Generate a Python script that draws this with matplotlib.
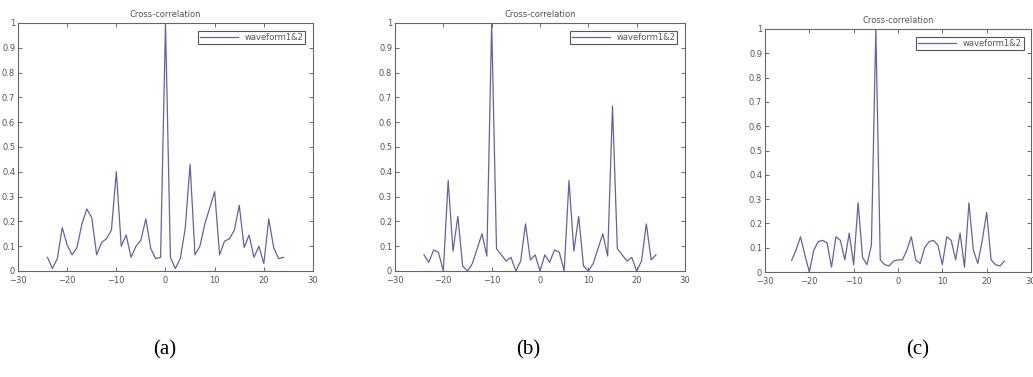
import numpy as np
import matplotlib
matplotlib.use("Agg")
import matplotlib.pyplot as plt

# lags shared by all three panels
lags = list(range(-24, 25))

corr_a = [0.055, 0.01, 0.05, 0.175, 0.105, 0.065, 0.095, 0.19, 0.25, 0.215,
          0.065, 0.115, 0.13, 0.165, 0.40, 0.10, 0.145, 0.055, 0.10, 0.125,
          0.21, 0.09, 0.05, 0.055, 1.0, 0.055, 0.01, 0.05, 0.17, 0.43,
          0.065, 0.10, 0.19, 0.255, 0.32, 0.065, 0.12, 0.13, 0.165, 0.265,
          0.095, 0.145, 0.055, 0.10, 0.03, 0.21, 0.095, 0.05, 0.055]

corr_b = [0.065, 0.035, 0.085, 0.075, 0.0, 0.365, 0.08, 0.22, 0.02, 0.0,
          0.03, 0.09, 0.15, 0.06, 1.0, 0.09, 0.065, 0.04, 0.055, 0.0,
          0.04, 0.19, 0.045, 0.065, 0.0, 0.065, 0.035, 0.085, 0.075, 0.0,
          0.365, 0.08, 0.22, 0.02, 0.0, 0.03, 0.09, 0.15, 0.06, 0.665,
          0.09, 0.065, 0.04, 0.055, 0.0, 0.04, 0.19, 0.045, 0.065]

corr_c = [0.048, 0.09, 0.145, 0.07, 0.0, 0.09, 0.125, 0.13, 0.12, 0.02,
          0.145, 0.13, 0.05, 0.16, 0.03, 0.285, 0.06, 0.03, 0.11, 1.0,
          0.05, 0.03, 0.025, 0.045, 0.05, 0.05, 0.09, 0.145, 0.05, 0.035,
          0.10, 0.125, 0.13, 0.11, 0.03, 0.145, 0.13, 0.05, 0.16, 0.02,
          0.285, 0.09, 0.035, 0.13, 0.245, 0.05, 0.03, 0.025, 0.045]

panels = ["(a)", "(b)", "(c)"]
series = [corr_a, corr_b, corr_c]
x_ticks = [-30, -20, -10, 0, 10, 20, 30]
y_ticks = [0, 0.1, 0.2, 0.3, 0.4, 0.5, 0.6, 0.7, 0.8, 0.9, 1]
y_labels = ["0", "0.1", "0.2", "0.3", "0.4", "0.5", "0.6", "0.7", "0.8", "0.9", "1"]

W, H = 1033, 377
# axes boxes in pixels: left, top, right, bottom
boxes = [(18, 23, 313, 271), (395, 23, 685, 271), (765, 29, 1031, 272)]
label_x = [165, 528, 918]

fig = plt.figure(figsize=(W / 100, H / 100), dpi=100)
line_col = "#6262ad"
grey = "#555555"

for i in range(3):
    l, t, r, b = boxes[i]
    ax = fig.add_axes([l / W, 1 - b / H, (r - l) / W, (b - t) / H])
    ax.plot(lags, series[i], color=line_col, lw=0.9, label="waveform1&2")
    ax.set_xlim(-30, 30)
    ax.set_ylim(0, 1)
    ax.set_xticks(x_ticks)
    ax.set_yticks(y_ticks)
    ax.set_yticklabels(y_labels)
    ax.tick_params(direction="in", top=True, right=True, length=3, width=0.6,
                   labelsize=6, colors=grey, pad=2)
    ax.tick_params(axis="x", pad=3.5)
    for s in ax.spines.values():
        s.set_color("#666666")
        s.set_linewidth(0.8)
    ax.set_title("Cross-correlation", fontsize=6, color=grey, pad=4)
    leg = ax.legend(loc="upper right", fontsize=6, handlelength=4.5, borderpad=0.25,
                    fancybox=False, framealpha=1, borderaxespad=0.9)
    leg.get_frame().set_edgecolor("#555555")
    leg.get_frame().set_linewidth(0.8)
    for txt in leg.get_texts():
        txt.set_color(grey)
    fig.text(label_x[i] / W, 1 - 350 / H, panels[i], fontsize=15,
             family="Liberation Serif", ha="center", va="center")

fig.savefig("out.png", dpi=100)
